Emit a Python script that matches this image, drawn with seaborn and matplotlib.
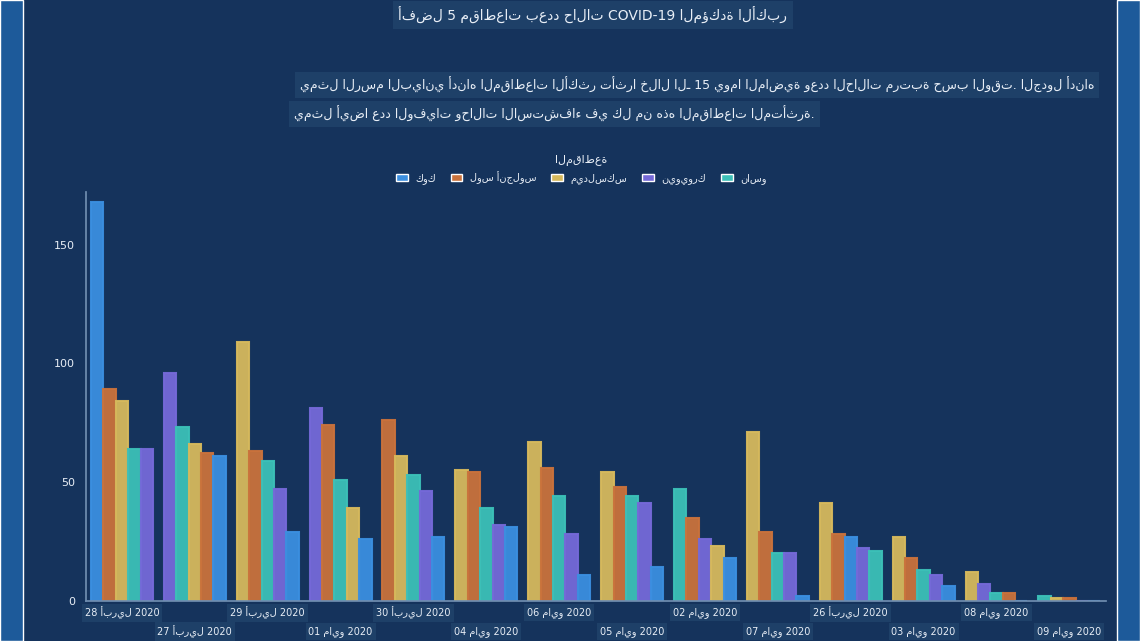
import numpy as np
import pandas as pd
import matplotlib
matplotlib.use("Agg")
import matplotlib.pyplot as plt
import seaborn as sns

BG = "#15335c"
SIDE = "#1d5a9a"
TXT = "#e8eef6"
BOX = "#1e4068"

dates = ["28 أبريل 2020", "27 أبريل 2020", "29 أبريل 2020", "01 مايو 2020",
         "30 أبريل 2020", "04 مايو 2020", "06 مايو 2020", "05 مايو 2020",
         "02 مايو 2020", "07 مايو 2020", "26 أبريل 2020", "03 مايو 2020",
         "08 مايو 2020", "09 مايو 2020"]
counties = ["كوك", "لوس أنجلوس", "ميدلسكس", "نيويورك", "ناسو"]
county_colors = ["#3b8fe0", "#c9723c", "#d6b95c", "#7569d8", "#3cc0b8"]

# cases per county (order of `counties`) for each date
cases_cook = [168, 61, 29, 26, 27, 31, 11, 14, 18, 2, 27, 6, 0, 0]
cases_la = [89, 62, 63, 74, 76, 54, 56, 48, 35, 29, 28, 18, 3, 1]
cases_mid = [84, 66, 109, 39, 61, 55, 67, 54, 23, 71, 41, 27, 12, 1]
cases_ny = [64, 96, 47, 81, 46, 32, 28, 41, 26, 20, 22, 11, 7, 0]
cases_nas = [64, 73, 59, 51, 53, 39, 44, 44, 47, 20, 21, 13, 3, 2]

rows = []
for i, d in enumerate(dates):
    vals = [cases_cook[i], cases_la[i], cases_mid[i], cases_ny[i], cases_nas[i]]
    order = np.argsort(vals, kind="stable")[::-1]
    for rank, k in enumerate(order):
        rows.append({"date": d, "rank": rank, "county": counties[k], "cases": vals[k]})
df = pd.DataFrame(rows)

sns.set_theme(style="dark")
plt.rcParams["font.family"] = ["DejaVu Sans"]

fig = plt.figure(figsize=(11.4, 6.41), dpi=100, facecolor=BG)
for x0 in (0, 0.98):
    fig.patches.append(plt.Rectangle((x0, 0), 0.02, 1, transform=fig.transFigure,
                                     facecolor=SIDE, zorder=0))
ax = fig.add_axes([0.075, 0.063, 0.895, 0.637])
ax.set_facecolor(BG)

sns.barplot(data=df, x="date", y="cases", hue="rank", order=dates, ax=ax,
            width=0.85, legend=False, saturation=1)
cmap = dict(zip(counties, county_colors))
for rank, cont in enumerate(ax.containers):
    sub = df[df["rank"] == rank].set_index("date").loc[dates]
    for bar, c in zip(cont, sub["county"]):
        col = cmap[c]
        bar.set_facecolor(col)
        bar.set_edgecolor(matplotlib.colors.to_rgba(col, 0.9))
        bar.set_linewidth(1.5)
        bar.set_alpha(0.95)

ax.set_ylim(0, 172)
ax.set_xlim(-0.5, len(dates) - 0.5)
ax.set_yticks([0, 50, 100, 150])
ax.tick_params(axis="y", colors=TXT, labelsize=8, length=4, color=TXT)
ax.set_xticks([])
ax.set_xlabel("")
ax.set_ylabel("")
for s in ["top", "right"]:
    ax.spines[s].set_visible(False)
ax.spines["left"].set_color("#6f8db0")
ax.spines["bottom"].set_color("#6f8db0")

for i, d in enumerate(dates):
    y = -0.03 if i % 2 == 0 else -0.075
    ax.text(i, y, d, transform=ax.get_xaxis_transform(), ha="center", va="center",
            fontsize=7, color=TXT,
            bbox=dict(boxstyle="square,pad=0.3", fc=BOX, ec="none"))

fig.text(0.52, 0.977, "أفضل 5 مقاطعات بعدد حالات COVID-19 المؤكدة الأكبر",
         ha="center", va="center", fontsize=10, color=TXT,
         bbox=dict(boxstyle="square,pad=0.4", fc=BOX, ec="none"))
fig.text(0.96, 0.868, "يمثل الرسم البياني أدناه المقاطعات الأكثر تأثرا خلال الـ 15 يوما الماضية وعدد الحالات مرتبة حسب الوقت. الجدول أدناه",
         ha="right", va="center", fontsize=9, color=TXT,
         bbox=dict(boxstyle="square,pad=0.4", fc=BOX, ec="none"))
fig.text(0.715, 0.822, "يمثل أيضا عدد الوفيات وحالات الاستشفاء في كل من هذه المقاطعات المتأثرة.",
         ha="right", va="center", fontsize=9, color=TXT,
         bbox=dict(boxstyle="square,pad=0.4", fc=BOX, ec="none"))

handles = [plt.Rectangle((0, 0), 1, 1, fc=c) for c in county_colors]
leg = fig.legend(handles, counties, title="المقاطعة", ncol=5, loc="center",
                 bbox_to_anchor=(0.51, 0.735), frameon=False, fontsize=7,
                 title_fontsize=8, handlelength=1.2, columnspacing=1.5)
for t in leg.get_texts():
    t.set_color(TXT)
leg.get_title().set_color(TXT)

fig.savefig("out.png", dpi=100, facecolor=BG)
